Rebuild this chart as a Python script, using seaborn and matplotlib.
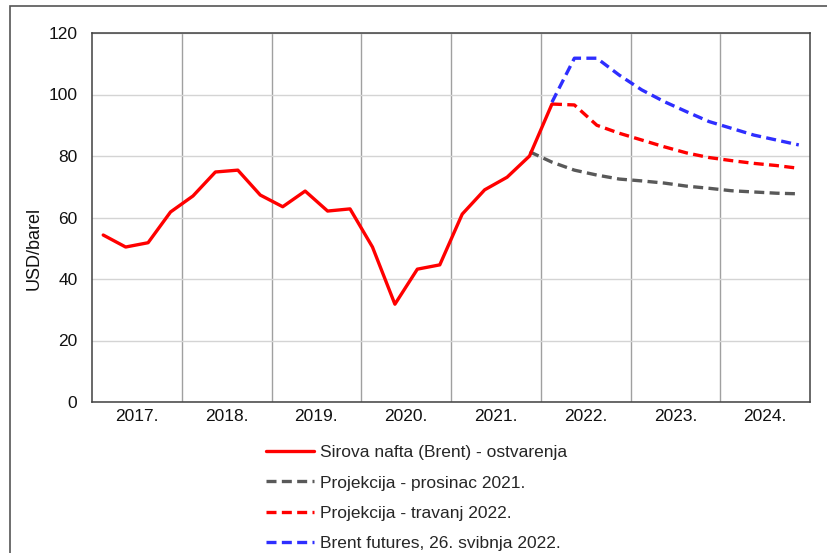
import matplotlib
matplotlib.use("Agg")
import matplotlib.pyplot as plt
import matplotlib.patches as mpatches
import seaborn as sns
import pandas as pd
import numpy as np

years = ["2017.", "2018.", "2019.", "2020.", "2021.", "2022.", "2023.", "2024."]

brent_actual = [54.3, 50.4, 51.8, 61.8, 67.0, 74.8, 75.4, 67.3,
                63.5, 68.6, 62.1, 62.8, 50.4, 31.8, 43.2, 44.6,
                61.1, 69.0, 73.1, 80.0, 96.9]
# projection Dec 2021 starts at 2021 Q4
proj_dec2021 = [81.4, 78.0, 75.4, 73.8, 72.5, 71.9, 71.2, 70.2, 69.5,
                68.7, 68.3, 67.9, 67.7]
# projection Apr 2022 starts at 2022 Q1
proj_apr2022 = [96.9, 96.6, 90.0, 87.4, 85.2, 83.0, 81.0, 79.5,
                78.5, 77.6, 76.9, 76.0]
# Brent futures starts at 2022 Q1
futures_may2022 = [97.5, 111.8, 111.8, 106.3, 101.5, 97.7, 94.4, 91.2,
                   89.0, 86.8, 85.2, 83.6]

labels = ["Sirova nafta (Brent) - ostvarenja",
          "Projekcija - prosinac 2021.",
          "Projekcija - travanj 2022.",
          "Brent futures, 26. svibnja 2022."]

sns.set_theme(style="white")
plt.rcParams['font.family'] = ['Liberation Sans', 'DejaVu Sans']

FS = 12.5
fig = plt.figure(figsize=(8.27, 5.53), dpi=100)
ax = fig.add_axes([92/827, 1-402/553, (810-92)/827, (402-33)/553])

def frame(vals, start):
    return pd.DataFrame({"q": np.arange(start, start + len(vals)), "v": vals})

lw = 2.4
d_act = frame(brent_actual, 0)
d_dec = frame(proj_dec2021, 19)
d_apr = frame(proj_apr2022, 20)
d_fut = frame(futures_may2022, 20)

sns.lineplot(data=d_dec, x="q", y="v", ax=ax, color="#595959", lw=lw, label=labels[1])
sns.lineplot(data=d_act, x="q", y="v", ax=ax, color="#FF0000", lw=lw, label=labels[0])
sns.lineplot(data=d_apr, x="q", y="v", ax=ax, color="#FF0000", lw=lw, label=labels[2])
sns.lineplot(data=d_fut, x="q", y="v", ax=ax, color="#2E2EFF", lw=lw, label=labels[3])

for line in ax.lines:
    if line.get_label() != labels[0]:
        line.set_dashes((3, 1.6))

ax.set_xlim(-0.5, 31.5)
ax.set_ylim(0, 120)
ax.set_yticks(range(0, 121, 20))
ax.set_xticks([1.5 + 4*i for i in range(8)])
ax.set_xticklabels(years)
ax.set_xticks([3.5 + 4*i for i in range(7)], minor=True)
ax.tick_params(axis='both', which='both', length=0, labelsize=FS, colors='#111111')
ax.tick_params(axis='x', pad=5)
ax.tick_params(axis='y', pad=10.5)
ax.grid(False)
ax.grid(axis='y', which='major', color='#d4d4d4', lw=1)
ax.grid(axis='x', which='minor', color='#a0a0a0', lw=1)
ax.set_axisbelow(True)
for s in ax.spines.values():
    s.set_color('#404040')
    s.set_linewidth(1.1)
ax.set_xlabel("")
ax.set_ylabel("USD/barel", fontsize=13, color='#111111')
ax.yaxis.set_label_coords(-0.0685, 0.415)

h, l = ax.get_legend_handles_labels()
order = [l.index(x) for x in labels]
ax.get_legend().remove()
fig.legend([h[i] for i in order], [l[i] for i in order], loc='center left',
           bbox_to_anchor=(257/827, 1-498/553), frameon=False, fontsize=FS,
           handlelength=2.8, handletextpad=0.3, labelspacing=0.86, borderpad=0)

fig.patches.append(mpatches.Rectangle((10/827, -0.05), 1.1, 1-6/553+0.05,
                   transform=fig.transFigure, fill=False, edgecolor='#555555', lw=1.2))

fig.savefig("out.png", dpi=100)
